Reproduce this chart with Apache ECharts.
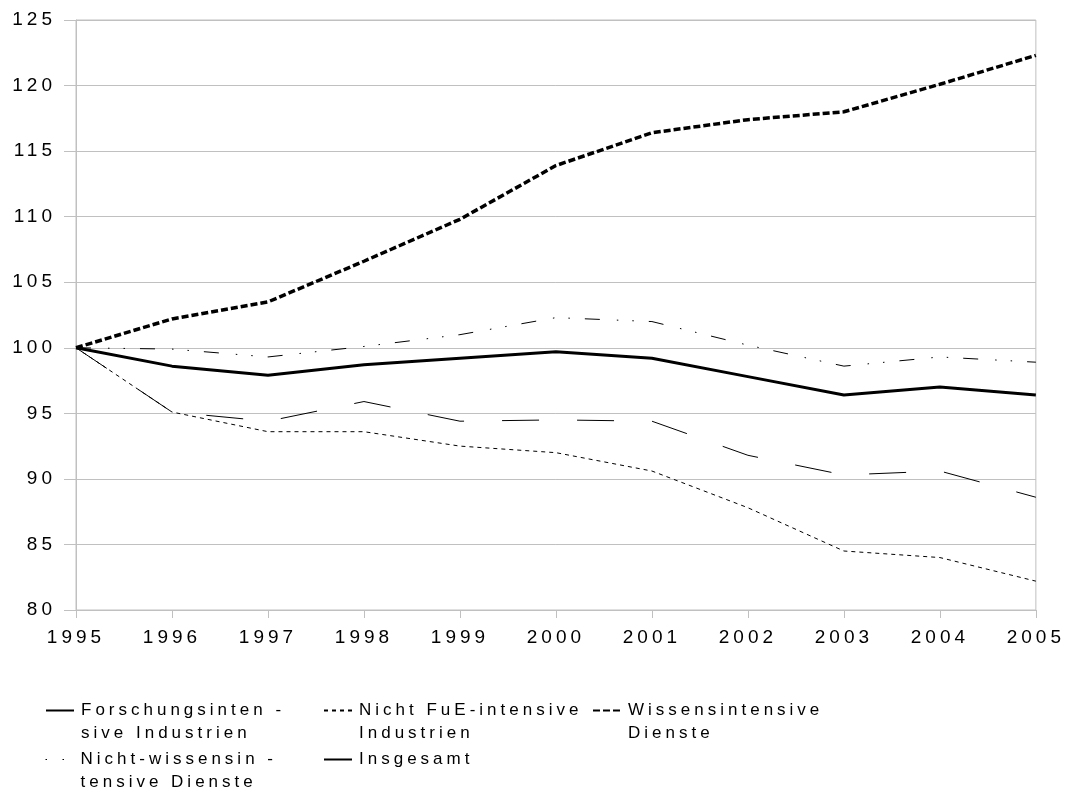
<!DOCTYPE html>
<html>
<head>
<meta charset="utf-8">
<script src="https://cdn.jsdelivr.net/npm/echarts@6/dist/echarts.min.js"></script>
<style>
html,body{margin:0;padding:0;background:#fff;}
#chart{width:1068px;height:787px;}
</style>
</head>
<body>
<div id="chart"></div>
<script>
// letter-spaced text like the reference (applied to every canvas context, so measuring and drawing agree)
(function () {
  var proto = CanvasRenderingContext2D.prototype;
  var d = Object.getOwnPropertyDescriptor(proto, 'font');
  if (d && d.set && ('letterSpacing' in proto)) {
    Object.defineProperty(proto, 'font', {
      configurable: true,
      get: function () { return d.get.call(this); },
      set: function (v) { d.set.call(this, v); this.letterSpacing = '4px'; }
    });
  }
})();

var years = ['1995','1996','1997','1998','1999','2000','2001','2002','2003','2004','2005'];
var forschung = [100, 95.1, 94.4, 95.9, 94.4, 94.5, 94.4, 91.8, 90.3, 90.6, 88.6];
var nichtFuE = [100, 95.1, 93.6, 93.6, 92.5, 92.0, 90.6, 87.8, 84.5, 84.0, 82.2];
var wissens = [100, 102.2, 103.5, 106.6, 109.8, 113.9, 116.4, 117.4, 118.0, 120.1, 122.3];
var nichtWissens = [100, 99.9, 99.3, 100.1, 101.0, 102.3, 102.0, 100.2, 98.6, 99.3, 98.9];
var insgesamt = [100, 98.6, 97.9, 98.7, 99.2, 99.7, 99.2, 97.8, 96.4, 97.0, 96.4];

var names = [
  'Forschungsinten -\nsive Industrien',
  'Nicht FuE-intensive\nIndustrien',
  'Wissensintensive\nDienste',
  'Nicht-wissensin -\ntensive Dienste',
  'Insgesamt'
];

var FONT = 'Liberation Sans, Arial, sans-serif';
var chart = echarts.init(document.getElementById('chart'), null, {renderer: 'canvas'});

function leg(name, left, top, twoLine, lineStyle) {
  var l = {
    data: [name], left: left, top: top, padding: 0,
    itemWidth: 28, itemHeight: 2, orient: 'horizontal',
    selectedMode: false,
    itemStyle: {opacity: 0},
    textStyle: {fontFamily: FONT, fontSize: 17, color: '#000', lineHeight: 23, padding: [0, 0, 0, 2]},
    formatter: function (n) { return twoLine ? '\n' + n : n; }
  };
  if (lineStyle) l.lineStyle = lineStyle;
  return l;
}

var option = {
  backgroundColor: '#fff',
  animation: false,
  grid: {left: 76, right: 31, top: 20, bottom: 177, show: true, borderColor: '#c0c0c0', borderWidth: 1},
  legend: [
    leg(names[0], 45, 676, true),
    leg(names[1], 323, 676, true),
    leg(names[2], 592, 676, true),
    leg(names[3], 45, 725, true, {type: [1.5, 15.5], width: 1, color: '#000'}),
    leg(names[4], 323, 748, false)
  ],
  xAxis: {
    type: 'category', data: years, boundaryGap: false,
    axisLine: {lineStyle: {color: '#c0c0c0', width: 1}},
    axisTick: {show: true, length: 8, lineStyle: {color: '#c0c0c0'}},
    axisLabel: {fontFamily: FONT, fontSize: 19, color: '#000', margin: 16}
  },
  yAxis: {
    type: 'value', min: 80, max: 125, interval: 5,
    axisLine: {show: true, lineStyle: {color: '#c0c0c0', width: 1}},
    axisTick: {show: true, length: 12, lineStyle: {color: '#c0c0c0'}},
    splitLine: {show: true, lineStyle: {color: '#c0c0c0', width: 1}},
    axisLabel: {fontFamily: FONT, fontSize: 19, color: '#000', margin: 20, padding: [4, 0, 0, 0]}
  },
  series: [
    {name: names[0], type: 'line', data: forschung, symbol: 'none',
     lineStyle: {color: '#000', width: 1, type: [37, 38]}, itemStyle: {color: '#000'}},
    {name: names[1], type: 'line', data: nichtFuE, symbol: 'none',
     lineStyle: {color: '#000', width: 1, type: [4, 4]}, itemStyle: {color: '#000'}},
    {name: names[3], type: 'line', data: nichtWissens, symbol: 'none',
     lineStyle: {color: '#000', width: 1, type: [15, 17, 1.5, 14, 1.5, 15]}, itemStyle: {color: '#000'}},
    {name: names[4], type: 'line', data: insgesamt, symbol: 'none',
     lineStyle: {color: '#000', width: 3}, itemStyle: {color: '#000'}},
    {name: names[2], type: 'line', data: wissens, symbol: 'none',
     lineStyle: {color: '#000', width: 3.5, type: [7, 3]}, itemStyle: {color: '#000'}}
  ]
};
chart.setOption(option);
</script>
</body>
</html>
